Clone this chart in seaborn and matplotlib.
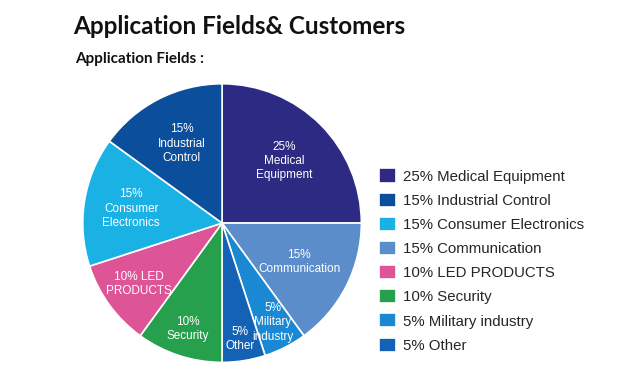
import matplotlib
matplotlib.use("Agg")
import matplotlib.pyplot as plt
import seaborn as sns
import numpy as np

# data, in clockwise order starting from 12 o'clock
fields = ["Medical Equipment", "Communication", "Military industry", "Other",
          "Security", "LED PRODUCTS", "Consumer Electronics", "Industrial Control"]
shares = [25, 15, 5, 5, 10, 10, 15, 15]
slice_labels = ["25%\nMedical\nEquipment", "15%\nCommunication", "5%\nMilitary\nindustry",
                "5%\nOther", "10%\nSecurity", "10% LED\nPRODUCTS",
                "15%\nConsumer\nElectronics", "15%\nIndustrial\nControl"]
legend_order = ["Medical Equipment", "Industrial Control", "Consumer Electronics",
                "Communication", "LED PRODUCTS", "Security", "Military industry", "Other"]

colors = {
    "Medical Equipment": "#2c2a82",
    "Communication": "#5b8dca",
    "Military industry": "#1a88d2",
    "Other": "#1462b6",
    "Security": "#27a04d",
    "LED PRODUCTS": "#de5597",
    "Consumer Electronics": "#1ab1e5",
    "Industrial Control": "#0b4f9c",
}
label_r = [0.63, 0.62, 0.8, 0.84, 0.8, 0.74, 0.66, 0.64]

sns.set_theme(style="white")
plt.rcParams["font.family"] = ["Liberation Sans", "DejaVu Sans"]

fig = plt.figure(figsize=(6.17, 3.81), dpi=100)
ax = fig.add_axes([0.133, 0.047, 0.4538, 0.735])

wedges, _ = ax.pie(shares, colors=[colors[f] for f in fields], startangle=90,
                   counterclock=False,
                   wedgeprops=dict(edgecolor="white", linewidth=1.2))
ax.set_xlim(-1.005, 1.005)
ax.set_ylim(-1.005, 1.005)
ax.set_aspect("equal")

for w, lab, r in zip(wedges, slice_labels, label_r):
    ang = np.deg2rad((w.theta1 + w.theta2) / 2)
    ax.text(r * np.cos(ang), r * np.sin(ang), lab, color="white", fontsize=8.5,
            ha="center", va="center", linespacing=1.25)

# legend
handles = {f: w for f, w in zip(fields, wedges)}
leg_labels = [f"{shares[fields.index(f)]}% {f}" for f in legend_order]
fig.legend([handles[f] for f in legend_order], leg_labels,
           loc="upper left", bbox_to_anchor=(0.615, 0.558), frameon=False,
           fontsize=10.8, handlelength=1.07, handleheight=1.07, handletextpad=0.5,
           labelspacing=0.6, borderpad=0, borderaxespad=0)

fig.text(0.118, 0.912, "Application Fields& Customers", fontsize=17.5,
         fontweight="bold", family=["Lato", "DejaVu Sans"], color="#111111",
         va="baseline")
fig.text(0.121, 0.834, "Application Fields :", fontsize=11, fontweight="bold",
         family=["Lato", "DejaVu Sans"], color="#111111", va="baseline")

fig.savefig("out.png", dpi=100)
